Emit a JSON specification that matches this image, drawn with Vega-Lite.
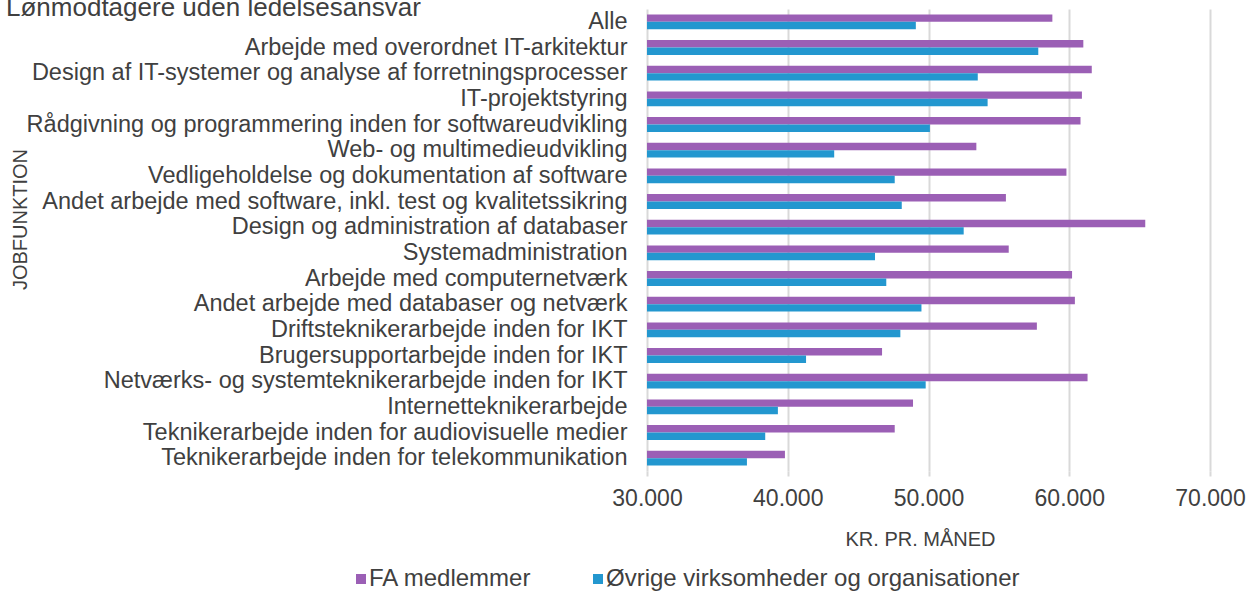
{
  "$schema": "https://vega.github.io/schema/vega-lite/v6.json",
  "autosize": "none",
  "width": 563,
  "height": 462,
  "padding": {"left": 647, "top": 9, "right": 39, "bottom": 121},
  "background": "white",
  "title": {
    "text": "Lønmodtagere uden ledelsesansvar",
    "anchor": "start",
    "frame": "group",
    "orient": "top",
    "align": "left",
    "baseline": "alphabetic",
    "offset": 0,
    "dx": -641,
    "dy": 33,
    "font": "Liberation Sans",
    "fontSize": 26,
    "fontWeight": "normal",
    "color": "#404040"
  },
  "data": {
    "values": [
      {"job": "Alle", "gruppe": "FA medlemmer", "kr": 58800},
      {"job": "Alle", "gruppe": "Øvrige virksomheder og organisationer", "kr": 49100},
      {"job": "Arbejde med overordnet IT-arkitektur", "gruppe": "FA medlemmer", "kr": 61000},
      {"job": "Arbejde med overordnet IT-arkitektur", "gruppe": "Øvrige virksomheder og organisationer", "kr": 57800},
      {"job": "Design af IT-systemer og analyse af forretningsprocesser", "gruppe": "FA medlemmer", "kr": 61600},
      {"job": "Design af IT-systemer og analyse af forretningsprocesser", "gruppe": "Øvrige virksomheder og organisationer", "kr": 53500},
      {"job": "IT-projektstyring", "gruppe": "FA medlemmer", "kr": 60900},
      {"job": "IT-projektstyring", "gruppe": "Øvrige virksomheder og organisationer", "kr": 54200},
      {"job": "Rådgivning og programmering inden for softwareudvikling", "gruppe": "FA medlemmer", "kr": 60800},
      {"job": "Rådgivning og programmering inden for softwareudvikling", "gruppe": "Øvrige virksomheder og organisationer", "kr": 50100},
      {"job": "Web- og multimedieudvikling", "gruppe": "FA medlemmer", "kr": 53400},
      {"job": "Web- og multimedieudvikling", "gruppe": "Øvrige virksomheder og organisationer", "kr": 43300},
      {"job": "Vedligeholdelse og dokumentation af software", "gruppe": "FA medlemmer", "kr": 59800},
      {"job": "Vedligeholdelse og dokumentation af software", "gruppe": "Øvrige virksomheder og organisationer", "kr": 47600},
      {"job": "Andet arbejde med software, inkl. test og kvalitetssikring", "gruppe": "FA medlemmer", "kr": 55500},
      {"job": "Andet arbejde med software, inkl. test og kvalitetssikring", "gruppe": "Øvrige virksomheder og organisationer", "kr": 48100},
      {"job": "Design og administration af databaser", "gruppe": "FA medlemmer", "kr": 65400},
      {"job": "Design og administration af databaser", "gruppe": "Øvrige virksomheder og organisationer", "kr": 52500},
      {"job": "Systemadministration", "gruppe": "FA medlemmer", "kr": 55700},
      {"job": "Systemadministration", "gruppe": "Øvrige virksomheder og organisationer", "kr": 46200},
      {"job": "Arbejde med computernetværk", "gruppe": "FA medlemmer", "kr": 60200},
      {"job": "Arbejde med computernetværk", "gruppe": "Øvrige virksomheder og organisationer", "kr": 47000},
      {"job": "Andet arbejde med databaser og netværk", "gruppe": "FA medlemmer", "kr": 60400},
      {"job": "Andet arbejde med databaser og netværk", "gruppe": "Øvrige virksomheder og organisationer", "kr": 49500},
      {"job": "Driftsteknikerarbejde inden for IKT", "gruppe": "FA medlemmer", "kr": 57700},
      {"job": "Driftsteknikerarbejde inden for IKT", "gruppe": "Øvrige virksomheder og organisationer", "kr": 48000},
      {"job": "Brugersupportarbejde inden for IKT", "gruppe": "FA medlemmer", "kr": 46700},
      {"job": "Brugersupportarbejde inden for IKT", "gruppe": "Øvrige virksomheder og organisationer", "kr": 41300},
      {"job": "Netværks- og systemteknikerarbejde inden for IKT", "gruppe": "FA medlemmer", "kr": 61300},
      {"job": "Netværks- og systemteknikerarbejde inden for IKT", "gruppe": "Øvrige virksomheder og organisationer", "kr": 49800},
      {"job": "Internetteknikerarbejde", "gruppe": "FA medlemmer", "kr": 48900},
      {"job": "Internetteknikerarbejde", "gruppe": "Øvrige virksomheder og organisationer", "kr": 39300},
      {"job": "Teknikerarbejde inden for audiovisuelle medier", "gruppe": "FA medlemmer", "kr": 47600},
      {"job": "Teknikerarbejde inden for audiovisuelle medier", "gruppe": "Øvrige virksomheder og organisationer", "kr": 38400},
      {"job": "Teknikerarbejde inden for telekommunikation", "gruppe": "FA medlemmer", "kr": 39800},
      {"job": "Teknikerarbejde inden for telekommunikation", "gruppe": "Øvrige virksomheder og organisationer", "kr": 37100}
    ]
  },
  "mark": {"type": "bar", "clip": true},
  "encoding": {
    "y": {
      "field": "job",
      "type": "nominal",
      "sort": null,
      "scale": {"paddingInner": 0.42, "paddingOuter": 0.21},
      "axis": {
        "title": "JOBFUNKTION",
        "titleFont": "Liberation Sans",
        "titleFontSize": 20,
        "titleFontWeight": "normal",
        "titleColor": "#404040",
        "titleAngle": -90,
        "titleAlign": "center",
        "titleBaseline": "middle",
        "titleX": -627,
        "titleY": 210,
        "labelFont": "Liberation Sans",
        "labelFontSize": 23.5,
        "labelColor": "#404040",
        "labelPadding": 20,
        "labelLimit": 1000,
        "ticks": false,
        "domain": false,
        "grid": false
      }
    },
    "yOffset": {
      "field": "gruppe",
      "type": "nominal",
      "sort": ["FA medlemmer", "Øvrige virksomheder og organisationer"],
      "scale": {"paddingInner": 0, "paddingOuter": 0}
    },
    "x": {
      "field": "kr",
      "type": "quantitative",
      "scale": {"domain": [30000, 70000], "zero": false, "nice": false},
      "axis": {
        "title": "KR. PR. MÅNED",
        "titleFont": "Liberation Sans",
        "titleFontSize": 20,
        "titleFontWeight": "normal",
        "titleColor": "#404040",
        "titlePadding": 19,
        "titleX": 273,
        "titleAlign": "center",
        "values": [30000, 40000, 50000, 60000, 70000],
        "labelExpr": "replace(format(datum.value, ','), ',', '.')",
        "labelFont": "Liberation Sans",
        "labelFontSize": 23,
        "labelColor": "#404040",
        "labelPadding": 11,
        "labelFlush": false,
        "tickSize": 5,
        "tickColor": "#d9d9d9",
        "tickWidth": 2,
        "domain": false,
        "grid": true,
        "gridColor": "#d9d9d9",
        "gridWidth": 2
      }
    },
    "x2": {"datum": 30000},
    "color": {
      "field": "gruppe",
      "type": "nominal",
      "scale": {
        "domain": ["FA medlemmer", "Øvrige virksomheder og organisationer"],
        "range": ["#9b5fb5", "#2397cf"]
      },
      "legend": {
        "title": null,
        "orient": "none",
        "direction": "horizontal",
        "legendX": -298,
        "legendY": 558,
        "symbolType": "square",
        "symbolSize": 100,
        "symbolStrokeWidth": 0,
        "labelFont": "Liberation Sans",
        "labelFontSize": 24,
        "labelColor": "#404040",
        "labelOffset": -4,
        "columnPadding": 54,
        "labelLimit": 1000
      }
    }
  },
  "config": {
    "view": {"stroke": null}
  }
}
